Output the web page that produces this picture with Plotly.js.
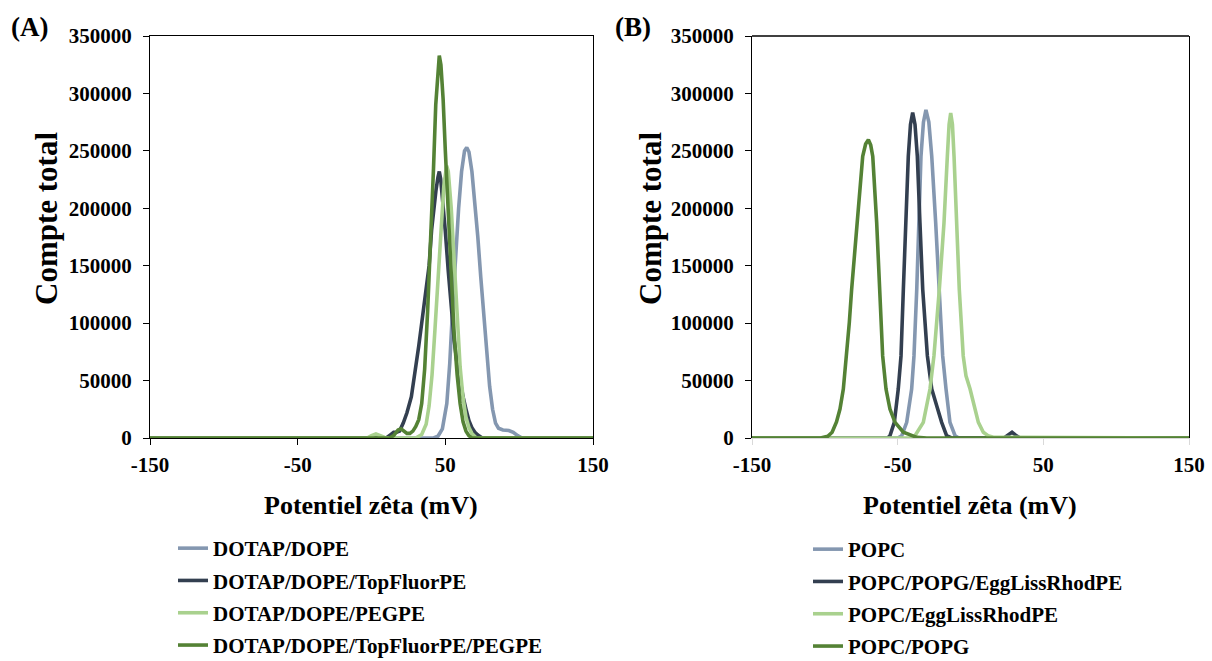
<!DOCTYPE html>
<html>
<head>
<meta charset="utf-8">
<script src="https://cdn.plot.ly/plotly-3.0.1.min.js"></script>
<style>html,body{margin:0;padding:0;background:#fff;}#chart{width:1212px;height:661px;}</style>
</head>
<body>
<div id="chart"></div>
<script>
// ---- Panel A data ----
const namesA = ["DOTAP/DOPE", "DOTAP/DOPE/TopFluorPE", "DOTAP/DOPE/PEGPE", "DOTAP/DOPE/TopFluorPE/PEGPE"];
const a1x = [-150, 42, 45, 48, 51, 53, 55, 57, 59, 61, 63, 64.5, 66, 68, 70, 72, 74, 76, 78, 80, 82, 84, 86, 89, 93, 96, 99, 102, 150];
const a1y = [0, 0, 1500, 8000, 30000, 65000, 115000, 160000, 200000, 232000, 250000, 253000, 249000, 232000, 205000, 175000, 140000, 105000, 70000, 45000, 25000, 13000, 8500, 7000, 6500, 5000, 2000, 0, 0];
const a2x = [-150, 10, 13, 15, 17, 19, 21.5, 24, 27, 30, 32, 34, 36, 37.5, 39, 40.7, 42, 43.7, 45, 45.9, 46.8, 48, 50, 52, 54, 56, 58, 60, 62, 64, 66, 68, 70, 72, 75, 150];
const a2y = [0, 0, 3000, 5000, 5000, 6000, 13000, 22000, 36000, 60000, 80000, 100000, 120000, 130000, 150000, 181000, 200000, 216000, 227000, 232000, 226000, 210000, 180000, 145000, 112000, 85000, 64000, 48000, 36000, 25000, 15000, 9000, 5000, 2500, 0, 0];
const a3x = [-150, -3, 0, 3, 6, 9, 12, 30, 34, 37, 39, 41, 43, 45, 47, 49, 50.9, 52, 54, 56, 58, 60, 62, 64, 66, 68, 71, 150];
const a3y = [0, 0, 2000, 3500, 2000, 500, 0, 0, 3000, 12000, 28000, 55000, 95000, 140000, 180000, 220000, 237000, 232000, 200000, 150000, 100000, 62000, 35000, 18000, 9000, 4000, 0, 0];
const a4x = [-150, 12, 15, 18, 20, 22, 24, 26, 28, 30, 32, 34, 36, 38, 40, 42, 43.5, 45, 45.9, 47, 48.5, 50, 52, 54, 56, 58, 60, 62, 64, 66, 68, 150];
const a4y = [0, 0, 2000, 7000, 8000, 6000, 4000, 4000, 6000, 10000, 16000, 30000, 60000, 110000, 165000, 235000, 290000, 325000, 333000, 325000, 295000, 250000, 195000, 135000, 90000, 55000, 30000, 14000, 6000, 2000, 0, 0];

// ---- Panel B data ----
const namesB = ["POPC", "POPC/POPG/EggLissRhodPE", "POPC/EggLissRhodPE", "POPC/POPG"];
const b1x = [-150, -50, -47.2, -43.8, -40.4, -38.8, -36.9, -35.6, -34.0, -32.3, -30.6, -28.6, -26.6, -23.9, -21.6, -19.1, -16.8, -14.1, -10.6, -8, 150];
const b1y = [0, 0, 2000, 13600, 42600, 71500, 129400, 187300, 245200, 275000, 285700, 275000, 245200, 187300, 129400, 71500, 42600, 13600, 2000, 0, 0];
const b2x = [-150, -57, -55.3, -52.3, -49.6, -47.7, -46.1, -44.5, -42.7, -41.2, -39.7, -38.1, -36.5, -34.7, -32.8, -29.6, -26.6, -23.2, -19.8, -16.4, -13, 23, 26, 28.5, 31, 34, 150];
const b2y = [0, 0, 2000, 13600, 42600, 71500, 129400, 187300, 245200, 273000, 283400, 273000, 245200, 187300, 129400, 71500, 42600, 28000, 13600, 2000, 0, 0, 2500, 5000, 2500, 0, 0];
const b3x = [-150, -41, -38.1, -32.4, -27.8, -25.1, -21.4, -18.2, -15.9, -14.7, -13.6, -12.4, -11.3, -9.5, -7.7, -5.0, -3.1, -0.3, 3.1, 5.4, 8.8, 12, 15.7, 150];
const b3y = [0, 0, 2000, 13600, 42600, 71500, 129400, 187300, 245200, 273000, 282900, 273000, 245200, 187300, 129400, 71500, 54100, 42600, 25200, 13600, 5000, 2000, 600, 0];
const b4x = [-150, -103, -98, -95, -92, -89.6, -87.3, -85.0, -83.2, -81.6, -79.8, -78.1, -76.3, -74.0, -72, -70.1, -68.5, -67.1, -64.4, -62.6, -60.3, -58.0, -55.3, -51.8, -46.1, -36.9, -30, 150];
const b4y = [0, 0, 1500, 5000, 14000, 25200, 42600, 71500, 100500, 129400, 158300, 187300, 216300, 245200, 256000, 259700, 255000, 245200, 187300, 129400, 71500, 42600, 25200, 13600, 5000, 600, 0, 0];

const xTicks = [-150, -50, 50, 150];
const yTicks = [0, 50000, 100000, 150000, 200000, 250000, 300000, 350000];
const colors = ["#8497B0", "#333F50", "#A9D18E", "#548235"];

const W = 1212, H = 661;
const FONT = "Liberation Serif, Times New Roman, serif";

function tr(x, y, name, i, xa, ya, leg) {
  return {
    x: x, y: y, name: name, type: "scatter", mode: "lines",
    xaxis: xa, yaxis: ya, legend: leg, legendgroup: leg + i,
    cliponaxis: false, hoverinfo: "x+y+name",
    line: {color: colors[i], width: 3.6}
  };
}

const data = [
  tr(a1x, a1y, namesA[0], 0, "x", "y", "legend"),
  tr(a2x, a2y, namesA[1], 1, "x", "y", "legend"),
  tr(a3x, a3y, namesA[2], 2, "x", "y", "legend"),
  tr(a4x, a4y, namesA[3], 3, "x", "y", "legend"),
  tr(b1x, b1y, namesB[0], 0, "x2", "y2", "legend2"),
  tr(b2x, b2y, namesB[1], 1, "x2", "y2", "legend2"),
  tr(b3x, b3y, namesB[2], 2, "x2", "y2", "legend2"),
  tr(b4x, b4y, namesB[3], 3, "x2", "y2", "legend2")
];

const tickFont = {family: FONT, size: 21, color: "#000", weight: "bold"};
function xa(dom, lc) {
  return {
    domain: dom, range: [-150, 150], tickvals: xTicks, ticktext: xTicks.map(String),
    showgrid: false, zeroline: false, showline: true, linecolor: lc, linewidth: 1.3,
    ticks: "outside", ticklen: 6, tickcolor: lc, tickwidth: 1.3,
    tickfont: tickFont, ticklabelstandoff: 2, fixedrange: true
  };
}
function ya(dom, anchor) {
  return {
    domain: dom, range: [0, 350000], tickvals: yTicks, ticktext: yTicks.map(String),
    anchor: anchor, showgrid: false, zeroline: false, showline: true, mirror: true,
    linecolor: "#000", linewidth: 1.3, ticks: "outside", ticklen: 6, tickcolor: "#000", tickwidth: 1.3,
    tickfont: tickFont, ticklabelstandoff: 7, fixedrange: true
  };
}
const yDom = [1 - 438 / H, 1 - 36 / H];
const xA = xa([150 / W, 593 / W], "#000"); xA.mirror = true; xA.anchor = "y";
const xB = xa([752 / W, 1189 / W], "#D9D9D9"); xB.anchor = "y2";

const legFont = {family: FONT, size: 21, color: "#000", weight: "bold"};
function ann(text, x, y, size, angle) {
  return {text: text, xref: "paper", yref: "paper", x: x / W, y: 1 - y / H,
    xanchor: "center", yanchor: "middle", textangle: angle || 0, showarrow: false,
    font: {family: FONT, size: size, color: "#000", weight: "bold"}};
}
const layout = {
  width: W, height: H, margin: {l: 0, r: 0, t: 0, b: 0, autoexpand: false},
  paper_bgcolor: "#fff", plot_bgcolor: "#fff", showlegend: true,
  xaxis: xA, yaxis: ya(yDom, "x"),
  xaxis2: xB, yaxis2: ya(yDom, "x2"),
  legend: {x: 173 / W, y: 1 - 528 / H, xanchor: "left", yanchor: "top", font: legFont,
    traceorder: "grouped", tracegroupgap: 2, bgcolor: "rgba(0,0,0,0)", borderwidth: 0},
  legend2: {x: 808 / W, y: 1 - 529 / H, xanchor: "left", yanchor: "top", font: legFont,
    traceorder: "grouped", tracegroupgap: 2, bgcolor: "rgba(0,0,0,0)", borderwidth: 0},
  shapes: [
    {type: "line", xref: "x2 domain", yref: "y2 domain", x0: 0, x1: 1, y0: 1, y1: 1,
     line: {color: "#000", width: 1.3}}
  ],
  annotations: [
    ann("(A)", 29, 27, 27),
    ann("(B)", 633, 27, 27),
    ann("Compte total", 46, 219, 31, -90),
    ann("Compte total", 650, 219, 31, -90),
    ann("Potentiel zêta (mV)", 371, 505, 26),
    ann("Potentiel zêta (mV)", 970, 505, 26)
  ]
};

Plotly.newPlot("chart", data, layout, {displayModeBar: false, staticPlot: false, responsive: false});
</script>
</body>
</html>
